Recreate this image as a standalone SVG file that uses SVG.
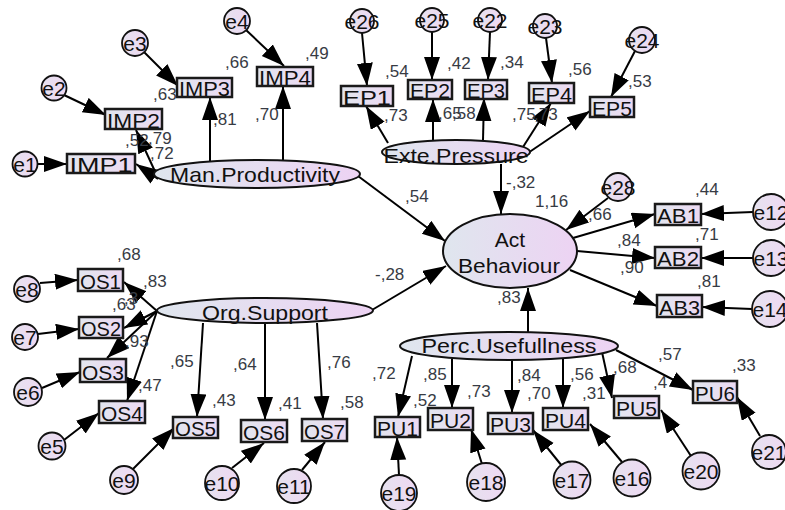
<svg xmlns="http://www.w3.org/2000/svg" width="785" height="510" viewBox="0 0 785 510">
<defs>
<linearGradient id="gl" x1="0" y1="0" x2="1" y2="0"><stop offset="0" stop-color="#dfe6ee"/><stop offset="1" stop-color="#edd3f3"/></linearGradient>
<linearGradient id="gb" x1="0" y1="0" x2="1" y2="0"><stop offset="0" stop-color="#e2e6ee"/><stop offset="1" stop-color="#ecd9f2"/></linearGradient>
<linearGradient id="ge" x1="0" y1="0" x2="1" y2="0"><stop offset="0" stop-color="#e6e2ef"/><stop offset="1" stop-color="#eed8f2"/></linearGradient>
<marker id="ah" markerUnits="userSpaceOnUse" markerWidth="24" markerHeight="18" refX="23" refY="8" orient="auto"><path d="M0,0 L23,8 L0,16 z" fill="#000"/></marker>
</defs>
<style>
.lat{fill:url(#gl);stroke:#111;stroke-width:2}
.obs{fill:url(#gb);stroke:#1a1a1a;stroke-width:2.5}
.err{fill:url(#ge);stroke:#111;stroke-width:1.8}
.lbl{font-family:"Liberation Sans",Arial,sans-serif;font-size:21px;fill:#111;text-anchor:middle}
.val{font-family:"Liberation Sans",Arial,sans-serif;font-size:17px;fill:#373b44}
.cn line{stroke:#000;stroke-width:2;marker-end:url(#ah)}
</style>
<rect width="785" height="510" fill="#fff"/>

<g id="connectors" class="cn">
<line x1="158" y1="179" x2="136" y2="164"/>
<line x1="158" y1="178" x2="136" y2="130"/>
<line x1="210" y1="161" x2="210" y2="97"/>
<line x1="283" y1="160" x2="283" y2="86"/>
<line x1="37.5" y1="164" x2="67" y2="164"/>
<line x1="64" y1="95" x2="106" y2="115"/>
<line x1="144" y1="52" x2="178" y2="86"/>
<line x1="246" y1="30" x2="284" y2="66"/>
<line x1="388" y1="143" x2="366" y2="106"/>
<line x1="433" y1="140" x2="433" y2="99"/>
<line x1="483" y1="140" x2="484" y2="98"/>
<line x1="523" y1="147" x2="551" y2="103"/>
<line x1="525" y1="155" x2="590" y2="111"/>
<line x1="362" y1="33" x2="367" y2="86"/>
<line x1="432" y1="32" x2="432" y2="80"/>
<line x1="490" y1="32" x2="488" y2="80"/>
<line x1="546" y1="38" x2="552" y2="83"/>
<line x1="635" y1="51" x2="611" y2="97"/>
<line x1="501" y1="164" x2="501" y2="214"/>
<line x1="358" y1="176" x2="445" y2="241"/>
<line x1="372" y1="310" x2="446" y2="266"/>
<line x1="528" y1="332" x2="528" y2="288"/>
<line x1="608" y1="198" x2="566" y2="230"/>
<line x1="573" y1="238" x2="655" y2="214"/>
<line x1="577" y1="251" x2="655" y2="258"/>
<line x1="570" y1="270" x2="657" y2="306"/>
<line x1="753" y1="212" x2="701" y2="214"/>
<line x1="753" y1="258" x2="701" y2="258"/>
<line x1="752" y1="309" x2="702" y2="307"/>
<line x1="157" y1="311" x2="124" y2="282"/>
<line x1="157" y1="311" x2="124" y2="328"/>
<line x1="157" y1="311" x2="107" y2="358"/>
<line x1="157" y1="311" x2="127" y2="401"/>
<line x1="203" y1="323" x2="197" y2="417"/>
<line x1="265" y1="324" x2="265" y2="420"/>
<line x1="317" y1="323" x2="323" y2="419"/>
<line x1="40" y1="283" x2="78" y2="280"/>
<line x1="38" y1="334" x2="79" y2="329"/>
<line x1="42" y1="388" x2="80" y2="372"/>
<line x1="64" y1="440" x2="99" y2="413"/>
<line x1="133" y1="469" x2="174" y2="428"/>
<line x1="232" y1="468" x2="264" y2="443"/>
<line x1="302" y1="470" x2="325" y2="442"/>
<line x1="412" y1="356" x2="398" y2="417"/>
<line x1="452" y1="359" x2="452" y2="408"/>
<line x1="512" y1="360" x2="512" y2="413"/>
<line x1="563" y1="359" x2="563" y2="408"/>
<line x1="602" y1="352" x2="612" y2="398"/>
<line x1="616" y1="350" x2="693" y2="390"/>
<line x1="399" y1="475" x2="397" y2="437"/>
<line x1="482" y1="464" x2="471" y2="429"/>
<line x1="562" y1="466" x2="533" y2="430"/>
<line x1="622" y1="462" x2="590" y2="424"/>
<line x1="691" y1="456" x2="661" y2="410"/>
<line x1="760" y1="436" x2="737" y2="397"/>
</g>

<g id="ManProductivity"><ellipse class="lat" cx="257" cy="174" rx="103" ry="14"/><text class="lbl" x="255" y="182" textLength="170" lengthAdjust="spacingAndGlyphs">Man.Productivity</text></g>
<g id="ExtePressure"><ellipse class="lat" cx="456" cy="152" rx="74" ry="12"/><text class="lbl" x="456" y="163" textLength="145" lengthAdjust="spacingAndGlyphs">Exte.Pressure</text></g>
<g id="ActBehaviour"><ellipse class="lat" cx="510" cy="251" rx="67" ry="37"/><text class="lbl" x="510" y="247" font-size="22">Act</text><text class="lbl" x="509" y="273" textLength="102" lengthAdjust="spacingAndGlyphs">Behaviour</text></g>
<g id="OrgSupport"><ellipse class="lat" cx="265" cy="310.5" rx="108" ry="12.5"/><text class="lbl" x="265" y="320" textLength="126" lengthAdjust="spacingAndGlyphs">Org.Support</text></g>
<g id="PercUsefullness"><ellipse class="lat" cx="509" cy="346" rx="109" ry="14"/><text class="lbl" x="509" y="353" textLength="175" lengthAdjust="spacingAndGlyphs">Perc.Usefullness</text></g>

<g id="IMP1"><rect class="obs" x="67" y="154" width="68" height="19"/><text class="lbl" x="101" y="171.5" textLength="63" lengthAdjust="spacingAndGlyphs">IMP1</text></g>
<g id="IMP2"><rect class="obs" x="105" y="109" width="57" height="20"/><text class="lbl" x="133.5" y="127.5" textLength="53" lengthAdjust="spacingAndGlyphs">IMP2</text></g>
<g id="IMP3"><rect class="obs" x="177" y="78" width="55" height="19"/><text class="lbl" x="204.5" y="95.5" textLength="51" lengthAdjust="spacingAndGlyphs">IMP3</text></g>
<g id="IMP4"><rect class="obs" x="257" y="67" width="56" height="19"/><text class="lbl" x="285" y="84.5" textLength="52" lengthAdjust="spacingAndGlyphs">IMP4</text></g>
<g id="EP1"><rect class="obs" x="341" y="86" width="52" height="20"/><text class="lbl" x="367" y="104.5" textLength="48" lengthAdjust="spacingAndGlyphs">EP1</text></g>
<g id="EP2"><rect class="obs" x="408" y="80" width="44" height="19"/><text class="lbl" x="430" y="97.5" textLength="40" lengthAdjust="spacingAndGlyphs">EP2</text></g>
<g id="EP3"><rect class="obs" x="465" y="80" width="42" height="19"/><text class="lbl" x="486" y="97.5" textLength="38" lengthAdjust="spacingAndGlyphs">EP3</text></g>
<g id="EP4"><rect class="obs" x="529" y="83" width="45" height="20"/><text class="lbl" x="551.5" y="101.5" textLength="41" lengthAdjust="spacingAndGlyphs">EP4</text></g>
<g id="EP5"><rect class="obs" x="590" y="97" width="44" height="20"/><text class="lbl" x="612" y="115.5" textLength="40" lengthAdjust="spacingAndGlyphs">EP5</text></g>
<g id="AB1"><rect class="obs" x="655" y="204" width="46" height="21"/><text class="lbl" x="678" y="223" textLength="42" lengthAdjust="spacingAndGlyphs">AB1</text></g>
<g id="AB2"><rect class="obs" x="655" y="247" width="46" height="21"/><text class="lbl" x="678" y="266" textLength="42" lengthAdjust="spacingAndGlyphs">AB2</text></g>
<g id="AB3"><rect class="obs" x="657" y="295" width="45" height="22"/><text class="lbl" x="679.5" y="315" textLength="41" lengthAdjust="spacingAndGlyphs">AB3</text></g>
<g id="OS1"><rect class="obs" x="78" y="269" width="45" height="22"/><text class="lbl" x="100.5" y="289" textLength="41" lengthAdjust="spacingAndGlyphs">OS1</text></g>
<g id="OS2"><rect class="obs" x="79" y="317" width="44" height="21"/><text class="lbl" x="101" y="336" textLength="40" lengthAdjust="spacingAndGlyphs">OS2</text></g>
<g id="OS3"><rect class="obs" x="80" y="359" width="46" height="23"/><text class="lbl" x="103" y="380" textLength="42" lengthAdjust="spacingAndGlyphs">OS3</text></g>
<g id="OS4"><rect class="obs" x="99" y="401" width="46" height="22"/><text class="lbl" x="122" y="421" textLength="42" lengthAdjust="spacingAndGlyphs">OS4</text></g>
<g id="OS5"><rect class="obs" x="173" y="417" width="45" height="21"/><text class="lbl" x="195.5" y="436" textLength="41" lengthAdjust="spacingAndGlyphs">OS5</text></g>
<g id="OS6"><rect class="obs" x="241" y="420" width="46" height="22"/><text class="lbl" x="264" y="440" textLength="42" lengthAdjust="spacingAndGlyphs">OS6</text></g>
<g id="OS7"><rect class="obs" x="302" y="419" width="45" height="22"/><text class="lbl" x="324.5" y="439" textLength="41" lengthAdjust="spacingAndGlyphs">OS7</text></g>
<g id="PU1"><rect class="obs" x="375" y="417" width="45" height="20"/><text class="lbl" x="397.5" y="435.5" textLength="41" lengthAdjust="spacingAndGlyphs">PU1</text></g>
<g id="PU2"><rect class="obs" x="428" y="408" width="45" height="22"/><text class="lbl" x="450.5" y="428" textLength="41" lengthAdjust="spacingAndGlyphs">PU2</text></g>
<g id="PU3"><rect class="obs" x="488" y="413" width="45" height="21"/><text class="lbl" x="510.5" y="432" textLength="41" lengthAdjust="spacingAndGlyphs">PU3</text></g>
<g id="PU4"><rect class="obs" x="543" y="408" width="45" height="22"/><text class="lbl" x="565.5" y="428" textLength="41" lengthAdjust="spacingAndGlyphs">PU4</text></g>
<g id="PU5"><rect class="obs" x="614" y="396" width="45" height="22"/><text class="lbl" x="636.5" y="416" textLength="41" lengthAdjust="spacingAndGlyphs">PU5</text></g>
<g id="PU6"><rect class="obs" x="693" y="381" width="44" height="22"/><text class="lbl" x="715" y="401" textLength="40" lengthAdjust="spacingAndGlyphs">PU6</text></g>

<g id="e1"><circle class="err" cx="25" cy="164" r="12.5"/><text class="lbl" x="25" y="171.5">e1</text></g>
<g id="e2"><circle class="err" cx="54" cy="88" r="12.5"/><text class="lbl" x="54" y="95.5">e2</text></g>
<g id="e3"><circle class="err" cx="135" cy="43" r="13"/><text class="lbl" x="135" y="50.5">e3</text></g>
<g id="e4"><circle class="err" cx="237" cy="21" r="13"/><text class="lbl" x="237" y="28.5">e4</text></g>
<g id="e26"><circle class="err" cx="362" cy="21" r="12"/><text class="lbl" x="362" y="28.5">e26</text></g>
<g id="e25"><circle class="err" cx="432" cy="20" r="12"/><text class="lbl" x="432" y="27.5">e25</text></g>
<g id="e22"><circle class="err" cx="490" cy="20" r="12"/><text class="lbl" x="490" y="27.5">e22</text></g>
<g id="e23"><circle class="err" cx="545" cy="26" r="12"/><text class="lbl" x="545" y="33.5">e23</text></g>
<g id="e24"><circle class="err" cx="642" cy="40" r="13"/><text class="lbl" x="642" y="47.5">e24</text></g>
<g id="e28"><circle class="err" cx="618" cy="187" r="14"/><text class="lbl" x="618" y="194.5">e28</text></g>
<g id="e12"><circle class="err" cx="771" cy="212" r="18"/><text class="lbl" x="771" y="219.5">e12</text></g>
<g id="e13"><circle class="err" cx="771" cy="258" r="18"/><text class="lbl" x="771" y="265.5">e13</text></g>
<g id="e14"><circle class="err" cx="770" cy="309" r="18"/><text class="lbl" x="770" y="316.5">e14</text></g>
<g id="e8"><circle class="err" cx="27" cy="289" r="13"/><text class="lbl" x="27" y="296.5">e8</text></g>
<g id="e7"><circle class="err" cx="25" cy="337" r="13"/><text class="lbl" x="25" y="344.5">e7</text></g>
<g id="e6"><circle class="err" cx="28" cy="392" r="14"/><text class="lbl" x="28" y="399.5">e6</text></g>
<g id="e5"><circle class="err" cx="52" cy="446" r="13.5"/><text class="lbl" x="52" y="453.5">e5</text></g>
<g id="e9"><circle class="err" cx="124" cy="480" r="14"/><text class="lbl" x="124" y="487.5">e9</text></g>
<g id="e10"><circle class="err" cx="222" cy="483" r="17"/><text class="lbl" x="222" y="490.5">e10</text></g>
<g id="e11"><circle class="err" cx="294" cy="486" r="17"/><text class="lbl" x="294" y="493.5">e11</text></g>
<g id="e19"><circle class="err" cx="399" cy="493" r="18"/><text class="lbl" x="399" y="500.5">e19</text></g>
<g id="e18"><circle class="err" cx="486" cy="482" r="19"/><text class="lbl" x="486" y="489.5">e18</text></g>
<g id="e17"><circle class="err" cx="572" cy="480" r="18.5"/><text class="lbl" x="572" y="487.5">e17</text></g>
<g id="e16"><circle class="err" cx="632" cy="478" r="18.5"/><text class="lbl" x="632" y="485.5">e16</text></g>
<g id="e20"><circle class="err" cx="701" cy="471" r="18.5"/><text class="lbl" x="701" y="478.5">e20</text></g>
<g id="e21"><circle class="err" cx="769" cy="452" r="17"/><text class="lbl" x="769" y="459.5">e21</text></g>

<g id="values">
<text class="val" x="225" y="68">,66</text>
<text class="val" x="153" y="100">,63</text>
<text class="val" x="213" y="125">,81</text>
<text class="val" x="125" y="146">,52</text>
<text class="val" x="148" y="144">,79</text>
<text class="val" x="150" y="159">,72</text>
<text class="val" x="305" y="59">,49</text>
<text class="val" x="255" y="120">,70</text>
<text class="val" x="385" y="77">,54</text>
<text class="val" x="384" y="121">,73</text>
<text class="val" x="447" y="69">,42</text>
<text class="val" x="438" y="119">,65</text>
<text class="val" x="452" y="119">,58</text>
<text class="val" x="500" y="68">,34</text>
<text class="val" x="568" y="75">,56</text>
<text class="val" x="512" y="120">,75</text>
<text class="val" x="534" y="120">,73</text>
<text class="val" x="628" y="87">,53</text>
<text class="val" x="506" y="188">-,32</text>
<text class="val" x="405" y="202">,54</text>
<text class="val" x="535" y="207">1,16</text>
<text class="val" x="588" y="220">,66</text>
<text class="val" x="695" y="195">,44</text>
<text class="val" x="617" y="246">,84</text>
<text class="val" x="695" y="240">,71</text>
<text class="val" x="620" y="273">,90</text>
<text class="val" x="697" y="287">,81</text>
<text class="val" x="375" y="280">-,28</text>
<text class="val" x="497" y="303">,83</text>
<text class="val" x="117" y="260">,68</text>
<text class="val" x="143" y="287">,83</text>
<text class="val" x="124" y="304">,3</text>
<text class="val" x="112" y="310">,63</text>
<text class="val" x="125" y="347">,93</text>
<text class="val" x="138" y="391">,47</text>
<text class="val" x="170" y="367">,65</text>
<text class="val" x="212" y="406">,43</text>
<text class="val" x="233" y="370">,64</text>
<text class="val" x="278" y="409">,41</text>
<text class="val" x="327" y="368">,76</text>
<text class="val" x="340" y="408">,58</text>
<text class="val" x="372" y="379">,72</text>
<text class="val" x="413" y="406">,52</text>
<text class="val" x="423" y="380">,85</text>
<text class="val" x="467" y="397">,73</text>
<text class="val" x="517" y="381">,84</text>
<text class="val" x="527" y="399">,70</text>
<text class="val" x="570" y="380">,56</text>
<text class="val" x="582" y="399">,31</text>
<text class="val" x="613" y="373">,68</text>
<text class="val" x="653" y="388">,4</text>
<text class="val" x="658" y="360">,57</text>
<text class="val" x="732" y="371">,33</text>
</g>
</svg>
